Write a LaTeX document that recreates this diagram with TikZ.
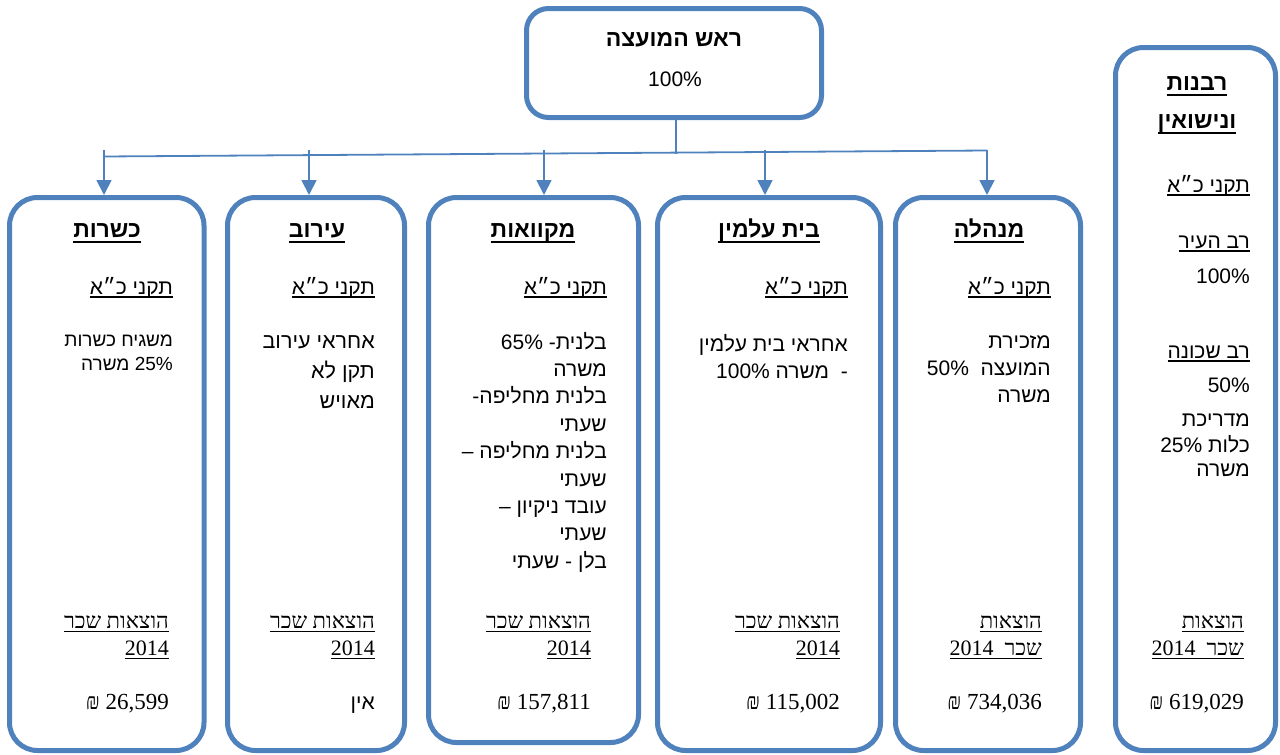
\documentclass[tikz,border=0pt]{standalone}
\usepackage{fontspec}
\setmainfont{Liberation Sans}[Script=Hebrew]
\newfontfamily\hebserif{Liberation Serif}[Script=Hebrew]
\newfontfamily\hebhead{Liberation Sans}[Script=Hebrew]
\usetikzlibrary{arrows.meta}
\TeXXeTstate=1
\definecolor{boxblue}{RGB}{79,129,189}
\newcommand\heb[1]{\beginR\strut#1\endR}
\newcommand\ulthin[1]{\setbox0=\hbox{#1}\rlap{\rule[-3.8pt]{\wd0}{1.5pt}}\box0}
\newcommand\ulthick[1]{\setbox0=\hbox{#1}\rlap{\rule[-6.2pt]{\wd0}{2.4pt}}\box0}

\begin{document}
\begin{tikzpicture}[x=1pt, y=-1pt, line join=round,
        box/.style={draw=boxblue, line width=5pt, rounded corners=28pt, inner sep=0pt, outer sep=0pt},
        conn/.style={draw=boxblue, line width=1.8pt},
        arr/.style={conn, -{Triangle[length=15pt,width=15pt]}, shorten >=2.5pt},
        title/.style={font=\hebhead\bfseries\fontsize{23}{38}\selectfont, align=center, anchor=north, inner sep=0pt},
        txt/.style={font=\fontsize{21}{27}\selectfont, anchor=base east, inner sep=0pt},
        body/.style={font=\fontsize{21}{27}\selectfont, align=right, anchor=north east, inner sep=0pt},
        wage/.style={font=\hebserif\fontsize{22}{27}\selectfont, align=right, anchor=north east, inner sep=0pt},
        sum/.style={font=\hebserif\fontsize{23}{27}\selectfont, anchor=base east, inner sep=0pt}]
        \useasboundingbox (0,0) rectangle (1280,755);
        % Head of council
        \node[box, rounded corners=22pt, minimum width=295pt, minimum height=109pt] (head) at (674,63) {};
        \node[title] (headT) at (674,20.1) {\heb{ראש המועצה}};
        \node[txt, anchor=base] (headP) at (675,86) {100\%};
        % Departments
        \node[box, minimum width=194.5pt, minimum height=553pt] (kashrut) at (106.75,474) {};
        \node[box, minimum width=177pt, minimum height=553pt] (eruv) at (316,474) {};
        \node[box, minimum width=210pt, minimum height=545pt] (mikvaot) at (533.5,470) {};
        \node[box, minimum width=223pt, minimum height=553pt] (cemetery) at (769,474) {};
        \node[box, minimum width=185pt, minimum height=553pt] (admin) at (988,474) {};
        \node[box, minimum width=160pt, minimum height=703pt] (rabbinate) at (1195.5,399) {};
        % Connectors
        \draw[conn] ([xshift=2pt]head.south) -- ++(0,36);
        \coordinate (busL) at (104,156.5);
        \coordinate (busR) at (987,150.5);
        \draw[conn] (busL) -- (busR);
        \foreach \x/\n in {104/kashrut, 309/eruv, 544/mikvaot, 765/cemetery, 987/admin} {
          \coordinate (from\n) at (\x,150);
          \draw[arr] (from\n) -- (from\n |- \n.north);
        }
        % Kashrut
        \node[title] (kashrutT) at (107,210.4) {\ulthick{\heb{כשרות}}};
        \node[txt] (kashrutS) at (173,294) {\ulthin{\heb{תקני כ״א}}};
        \node[body, font=\fontsize{19}{23.5}\selectfont] (kashrutB) at (173,330.2) {\heb{משגיח כשרות}\\\heb{\beginL 25\%\endL{} משרה}};
        \node[wage] (kashrutW) at (169,609.1) {\ulthin{\heb{הוצאות שכר}}\\\ulthin{2014}};
        \node[sum] (kashrutA) at (169,709) {\heb{\beginL 26,599\endL{} ₪}};
        % Eruv
        \node[title] (eruvT) at (317,210.4) {\ulthick{\heb{עירוב}}};
        \node[txt] (eruvS) at (375,294) {\ulthin{\heb{תקני כ״א}}};
        \node[body, font=\fontsize{21.5}{30}\selectfont] (eruvB) at (375,327) {\heb{אחראי עירוב}\\\heb{תקן לא}\\\heb{מאויש}};
        \node[wage] (eruvW) at (375,609.1) {\ulthin{\heb{הוצאות שכר}}\\\ulthin{2014}};
        \node[sum, font=\fontsize{21}{27}\selectfont] (eruvA) at (375,709) {\heb{אין}};
        % Mikvaot
        \node[title] (mikvaotT) at (533,210.4) {\ulthick{\heb{מקוואות}}};
        \node[txt] (mikvaotS) at (607,294) {\ulthin{\heb{תקני כ״א}}};
        \node[body, font=\fontsize{21}{27.4}\selectfont] (mikvaotB) at (607,329.8) {\heb{בלנית\kern0pt- \beginL 65\%\endL}\\\heb{משרה}\\\heb{בלנית מחליפה\kern0pt-}\\\heb{שעתי}\\\heb{בלנית מחליפה –}\\\heb{שעתי}\\\heb{עובד ניקיון –}\\\heb{שעתי}\\\heb{בלן - שעתי}};
        \node[wage] (mikvaotW) at (591,609.1) {\ulthin{\heb{הוצאות שכר}}\\\ulthin{2014}};
        \node[sum] (mikvaotA) at (591,709) {\heb{\beginL 157,811\endL{} ₪}};
        % Cemetery
        \node[title] (cemeteryT) at (769,210.4) {\ulthick{\heb{בית עלמין}}};
        \node[txt] (cemeteryS) at (848,294) {\ulthin{\heb{תקני כ״א}}};
        \node[body, font=\fontsize{21}{26.5}\selectfont] (cemeteryB) at (848,333.2) {\heb{אחראי בית עלמין}\\\heb{-~~משרה \beginL 100\%\endL}};
        \node[wage] (cemeteryW) at (840,609.1) {\ulthin{\heb{הוצאות שכר}}\\\ulthin{2014}};
        \node[sum] (cemeteryA) at (840,709) {\heb{\beginL 115,002\endL{} ₪}};
        % Administration
        \node[title] (adminT) at (989,210.4) {\ulthick{\heb{מנהלה}}};
        \node[txt] (adminS) at (1051,294) {\ulthin{\heb{תקני כ״א}}};
        \node[body] (adminB) at (1051,329) {\heb{מזכירת}\\\heb{המועצה~~\beginL 50\%\endL}\\\heb{משרה}};
        \node[wage] (adminW) at (1042,609.1) {\ulthin{\heb{הוצאות}}\\\ulthin{\heb{שכר~~\beginL 2014\endL}}};
        \node[sum] (adminA) at (1042,709) {\heb{\beginL 734,036\endL{} ₪}};
        % Rabbinate
        \node[title] (rabbinateT) at (1197,63.4) {\ulthick{\heb{רבנות}}\\\ulthick{\heb{ונישואין}}};
        \node[txt] (rabbinateS) at (1250,192) {\ulthin{\heb{תקני כ״א}}};
        \node[txt] (cityR) at (1250,248) {\ulthin{\heb{רב העיר}}};
        \node[txt] (cityP) at (1250,283) {100\%};
        \node[txt] (quarterR) at (1250,358) {\ulthin{\heb{רב שכונה}}};
        \node[txt] (quarterP) at (1250,392) {50\%};
        \node[body, font=\fontsize{21}{24}\selectfont] (brideB) at (1250,409.9) {\heb{מדריכת}\\\heb{כלות \beginL 25\%\endL}\\\heb{משרה}};
        \node[wage] (rabbinateW) at (1244,609.1) {\ulthin{\heb{הוצאות}}\\\ulthin{\heb{שכר~~\beginL 2014\endL}}};
        \node[sum] (rabbinateA) at (1244,709) {\heb{\beginL 619,029\endL{} ₪}};
\end{tikzpicture}
\end{document}
